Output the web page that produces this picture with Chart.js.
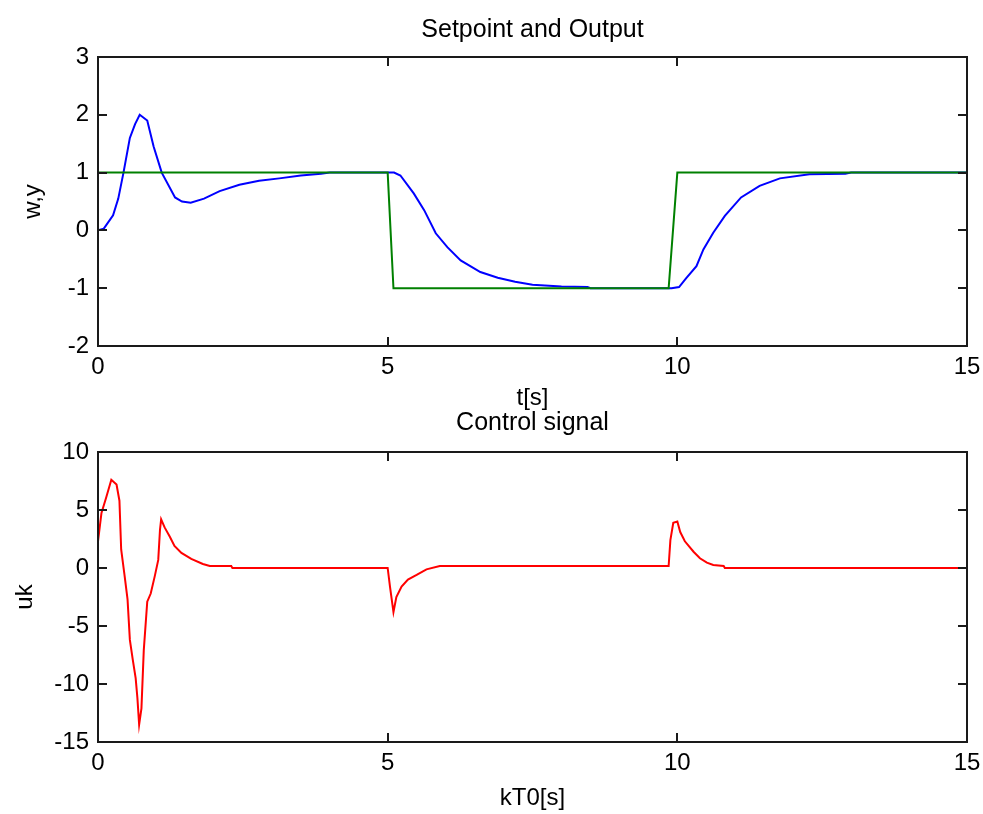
<!DOCTYPE html>
<html>
<head>
<meta charset="utf-8">
<script src="https://cdn.jsdelivr.net/npm/chart.js@4/dist/chart.umd.min.js"></script>
<style>
  html, body { margin: 0; padding: 0; background: #ffffff; }
  body { width: 983px; height: 814px; position: relative; overflow: hidden; }
  #c1 { position: absolute; left: 0; top: 0; }
  #c2 { position: absolute; left: 0; top: 400px; }
</style>
</head>
<body>
<canvas id="c1" width="983" height="420"></canvas>
<canvas id="c2" width="983" height="414"></canvas>
<script>
// ---- Data ----
// Setpoint w (green)
const setpointTime  = [0, 5, 5.1, 9.85, 10, 15];
const setpointValue = [1, 1, -1, -1, 1, 1];

// Output y (blue)
const outputTime  = [0, 0.1, 0.26, 0.35, 0.44, 0.55, 0.64, 0.72, 0.85, 0.96, 1.1, 1.33, 1.45, 1.6, 1.83, 2.1, 2.44, 2.78, 3.13, 3.5, 3.85, 4.0,
                     5.0, 5.11, 5.22, 5.45, 5.63, 5.83, 6.03, 6.26, 6.6, 6.9, 7.2, 7.5, 8.0, 8.45, 8.5,
                     9.9, 10.03, 10.15, 10.33, 10.45, 10.62, 10.82, 11.1, 11.42, 11.77, 12.28, 12.9, 13.0, 15];
const outputValue = [0, 0.03, 0.26, 0.55, 1.0, 1.6, 1.84, 2.0, 1.9, 1.45, 1.0, 0.57, 0.5, 0.48, 0.55, 0.68, 0.79, 0.86, 0.9, 0.95, 0.98, 1,
                     1, 1.0, 0.95, 0.64, 0.35, -0.05, -0.29, -0.52, -0.72, -0.82, -0.89, -0.94, -0.97, -0.98, -1,
                     -1, -0.98, -0.83, -0.62, -0.33, -0.04, 0.25, 0.57, 0.77, 0.9, 0.97, 0.98, 1, 1];

// Control signal uk (red)
const controlTime  = [0, 0.06, 0.14, 0.23, 0.32, 0.37, 0.40, 0.46, 0.51, 0.55, 0.60, 0.65, 0.68, 0.71, 0.75, 0.79, 0.85, 0.91, 0.98, 1.04, 1.07, 1.09,
                      1.15, 1.24, 1.32, 1.44, 1.61, 1.81, 1.93, 2.3, 2.32,
                      5.0, 5.04, 5.1, 5.15, 5.24, 5.35, 5.5, 5.67, 5.9,
                      9.85, 9.88, 9.93, 10.0, 10.05, 10.13, 10.28, 10.39, 10.51, 10.62, 10.8, 10.82, 15];
const controlValue = [2.3, 4.75, 6.05, 7.6, 7.2, 5.8, 1.6, -0.7, -2.7, -6.2, -7.9, -9.5, -11.2, -13.5, -12.1, -7.1, -2.9, -2.2, -0.7, 0.7, 3.3, 4.2,
                      3.5, 2.7, 1.9, 1.3, 0.78, 0.35, 0.17, 0.17, 0,
                      0, -1.6, -3.8, -2.5, -1.6, -1.0, -0.6, -0.12, 0.17,
                      0.17, 2.4, 3.9, 4.0, 3.1, 2.3, 1.4, 0.84, 0.46, 0.26, 0.17, 0, 0];

// Axis ticks
const xTicks      = [0, 5, 10, 15];
const topYTicks   = [-2, -1, 0, 1, 2, 3];
const botYTicks   = [-15, -10, -5, 0, 5, 10];

const pairs = (ts, vs) => ts.map((t, i) => ({ x: t, y: vs[i] }));

const FONT = { family: "'Liberation Sans', Arial, sans-serif", size: 24, lineHeight: 1, weight: 'normal' };
const TITLE_FONT = { family: "'Liberation Sans', Arial, sans-serif", size: 25, lineHeight: 1, weight: 'normal' };

// MATLAB-like box with inward ticks on all four sides
const matlabBox = {
  id: 'matlabBox',
  afterDatasetsDraw(chart) {
    const { ctx, chartArea: a, scales } = chart;
    const L = 9;
    ctx.save();
    ctx.strokeStyle = '#1a1a1a';
    ctx.lineWidth = 2;
    ctx.strokeRect(a.left, a.top, a.right - a.left, a.bottom - a.top);
    ctx.beginPath();
    scales.x.ticks.forEach(t => {
      const px = Math.round(scales.x.getPixelForValue(t.value));
      ctx.moveTo(px, a.bottom); ctx.lineTo(px, a.bottom - L);
      ctx.moveTo(px, a.top);    ctx.lineTo(px, a.top + L);
    });
    scales.y.ticks.forEach(t => {
      const py = Math.round(scales.y.getPixelForValue(t.value));
      ctx.moveTo(a.left, py);  ctx.lineTo(a.left + L, py);
      ctx.moveTo(a.right, py); ctx.lineTo(a.right - L, py);
    });
    ctx.stroke();
    ctx.restore();
  }
};

function makeScales(yMin, yMax, yTicks, xTitle, yTitle, xHeight, xTitleBottomPad, yTitleTopPad) {
  return {
    x: {
      type: 'linear', min: 0, max: 15,
      afterBuildTicks: s => { s.ticks = xTicks.map(v => ({ value: v })); },
      afterFit: s => { s.height = xHeight; s.paddingLeft = 0; s.paddingRight = 0; },
      ticks: { font: FONT, color: '#000', padding: 9, maxRotation: 0 },
      grid: { display: false, drawTicks: false },
      border: { display: false },
      title: { display: true, text: xTitle, font: FONT, color: '#000', padding: { top: 0, bottom: xTitleBottomPad } }
    },
    y: {
      type: 'linear', min: yMin, max: yMax,
      afterBuildTicks: s => { s.ticks = yTicks.map(v => ({ value: v })); },
      afterFit: s => { s.width = 98; s.paddingTop = 0; s.paddingBottom = 0; },
      ticks: { font: FONT, color: '#000', padding: 9 },
      grid: { display: false, drawTicks: false },
      border: { display: false },
      title: { display: true, text: yTitle, font: FONT, color: '#000', padding: { top: yTitleTopPad, bottom: 0 } }
    }
  };
}

function baseOptions(title, titlePad, scales) {
  return {
    responsive: false,
    animation: false,
    devicePixelRatio: 1,
    layout: { padding: { left: 0, right: 16, top: 0, bottom: 0 } },
    elements: { point: { radius: 0 }, line: { tension: 0 } },
    plugins: {
      legend: { display: false },
      tooltip: { enabled: false },
      title: { display: true, fullSize: false, text: title, font: TITLE_FONT, color: '#000', padding: titlePad }
    },
    scales
  };
}

new Chart(document.getElementById('c1'), {
  type: 'line',
  data: {
    datasets: [
      { label: 'w', data: pairs(setpointTime, setpointValue), borderColor: '#008000', borderWidth: 2, order: 0 },
      { label: 'y', data: pairs(outputTime, outputValue), borderColor: '#0000ff', borderWidth: 2, order: 1 }
    ]
  },
  options: baseOptions('Setpoint and Output', { top: 18, bottom: 14 },
    makeScales(-2, 3, topYTicks, 't[s]', 'w,y', 74, 10, 21)),
  plugins: [matlabBox]
});

new Chart(document.getElementById('c2'), {
  type: 'line',
  data: {
    datasets: [
      { label: 'uk', data: pairs(controlTime, controlValue), borderColor: '#ff0000', borderWidth: 2 }
    ]
  },
  options: baseOptions('Control signal', { top: 11, bottom: 16 },
    makeScales(-15, 10, botYTicks, 'kT0[s]', 'uk', 72, 4, 13)),
  plugins: [matlabBox]
});
</script>
</body>
</html>
